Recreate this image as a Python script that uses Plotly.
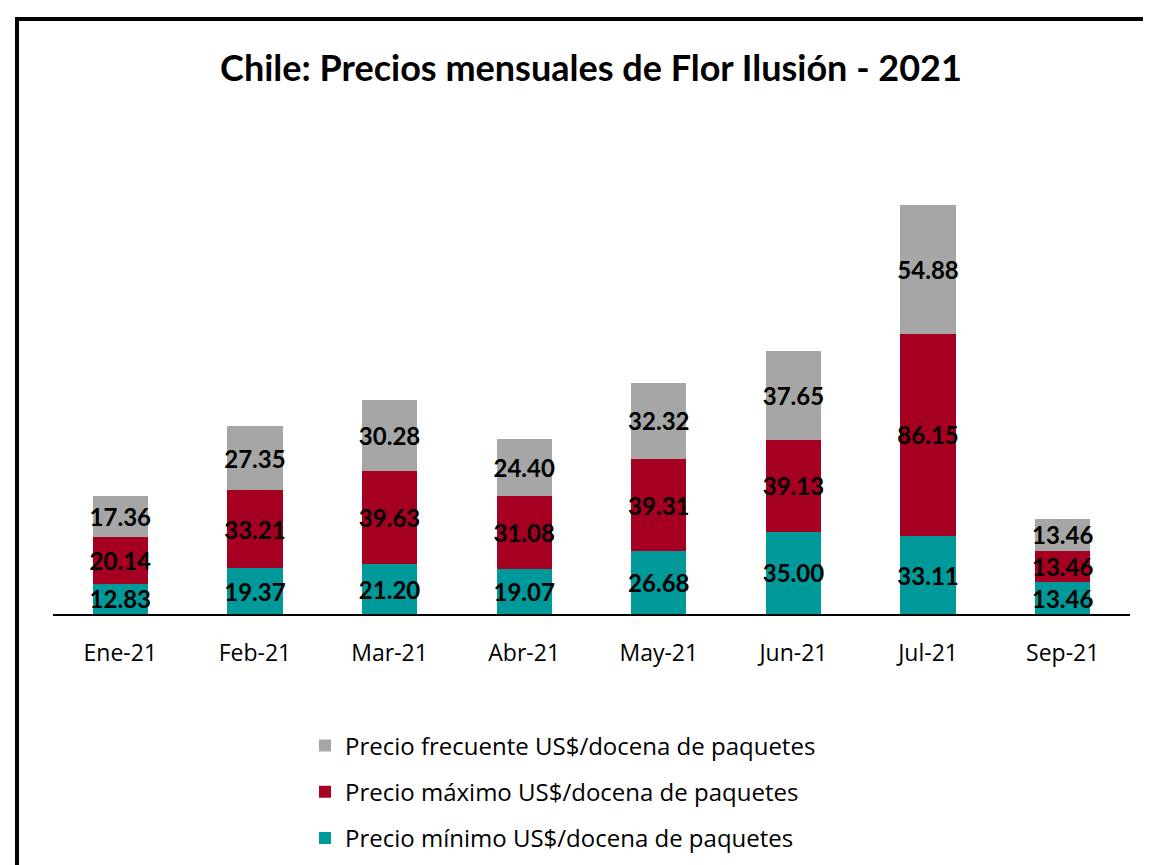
import plotly.graph_objects as go

months = ["Ene-21", "Feb-21", "Mar-21", "Abr-21", "May-21", "Jun-21", "Jul-21", "Sep-21"]
precio_minimo = [12.83, 19.37, 21.20, 19.07, 26.68, 35.00, 33.11, 13.46]
precio_maximo = [20.14, 33.21, 39.63, 31.08, 39.31, 39.13, 86.15, 13.46]
precio_frecuente = [17.36, 27.35, 30.28, 24.40, 32.32, 37.65, 54.88, 13.46]

FONT = "Lato"
TEXT_FONT = "Open Sans"

# (name, values, colour, legend position)
series = [
    ("Precio mínimo US$/docena de paquetes", precio_minimo, "#009999", 3),
    ("Precio máximo US$/docena de paquetes", precio_maximo, "#A50021", 2),
    ("Precio frecuente US$/docena de paquetes", precio_frecuente, "#A6A6A6", 1),
]

fig = go.Figure()
for name, vals, color, rank in series:
    fig.add_trace(
        go.Bar(
            x=months,
            y=vals,
            name=name,
            legendgroup=name,
            legendrank=rank,
            marker=dict(color=color, line=dict(width=0)),
            text=[f"{v:.2f}" for v in vals],
            textposition="inside",
            insidetextanchor="middle",
            constraintext="none",
            textangle=0,
            textfont=dict(family=FONT, size=24, color="black", weight="bold"),
            cliponaxis=False,
        )
    )

fig.update_layout(
    width=1151,
    height=865,
    barmode="stack",
    bargap=0.59,
    plot_bgcolor="white",
    paper_bgcolor="white",
    margin=dict(l=45, r=29, t=136, b=259),
    title=dict(
        text="<b>Chile: Precios mensuales de Flor Ilusión - 2021</b>",
        x=0.5065,
        xanchor="center",
        y=0.93,
        yanchor="middle",
        font=dict(family=FONT, size=36, color="black"),
    ),
    xaxis=dict(
        showline=True,
        linecolor="black",
        linewidth=2,
        ticks="",
        ticklabelstandoff=17,
        tickfont=dict(family=TEXT_FONT, size=23, color="black"),
        showgrid=False,
    ),
    yaxis=dict(range=[0, 200], visible=False, showgrid=False),
    legend=dict(
        orientation="v",
        x=0.234,
        xanchor="left",
        y=-0.233,
        yanchor="top",
        traceorder="grouped",
        tracegroupgap=12,
        font=dict(family=TEXT_FONT, size=24, color="black"),
        itemwidth=30,
    ),
    shapes=[
        dict(
            type="rect",
            xref="paper",
            yref="paper",
            x0=-0.0334,
            x1=1.05,
            y0=-0.7,
            y1=1.266,
            line=dict(color="black", width=4),
            fillcolor="rgba(0,0,0,0)",
            layer="above",
        )
    ],
)

fig.write_html("out.html")
